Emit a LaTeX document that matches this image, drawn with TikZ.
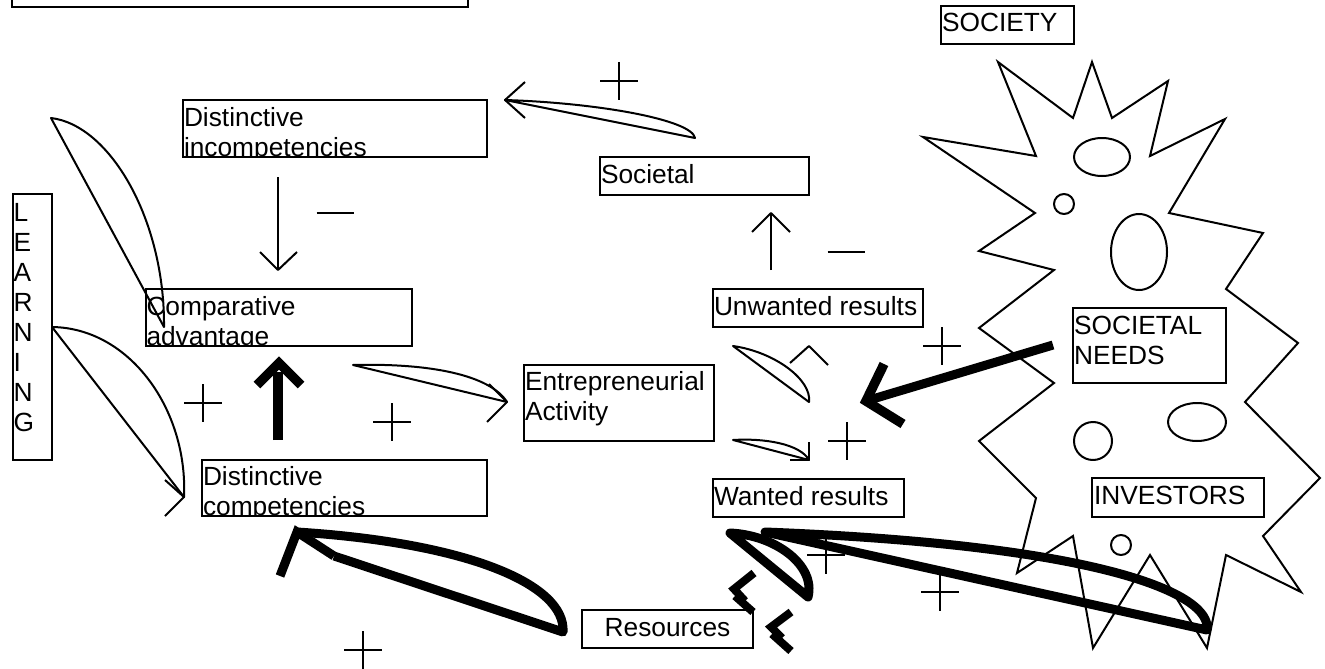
\documentclass[tikz,border=0pt]{standalone}
\usepackage{fontspec}
\setmainfont{Liberation Sans}
\begin{document}
\begin{tikzpicture}[x=1pt,y=-1pt,
  box/.style={draw,line width=2pt,inner sep=0pt,outer sep=0pt,anchor=north west},
  lbl/.style={inner sep=0pt,outer sep=0pt,anchor=base west,align=left,font=\fontsize{26.3}{30}\selectfont},
  thinline/.style={line width=2pt,line join=round},
  thickline/.style={line width=9pt,line join=round},
  headline/.style={line width=9.5pt,line join=miter},
  plussign/.pic={\draw[line width=2pt] (-19,0) -- (19,0) (0,-19) -- (0,19);},
  minussign/.pic={\draw[line width=2pt] (-18.5,0) -- (18.5,0);}]
\useasboundingbox (0,0) rectangle (1325,669);

% ---------- society star ----------
\draw[line width=2pt,line join=miter] (998,62) -- (1073,118) -- (1092,62) -- (1112,118) -- (1168,81) -- (1150,156)
  -- (1225,119) -- (1169,213) -- (1263,233) -- (1226,289) -- (1298,343) -- (1245,402) -- (1320,478)
  -- (1263,536) -- (1301,592) -- (1226,555) -- (1207,648) -- (1150,555) -- (1093,648) -- (1073,536)
  -- (1017,573) -- (1036,498) -- (979,441) -- (1054,383) -- (979,328) -- (1054,270) -- (979,251)
  -- (1035,213) -- (923,137) -- (1036,156) -- cycle;
\draw[thinline] (1102,157) ellipse [x radius=28pt, y radius=19pt];
\draw[thinline] (1064,204) circle [radius=10pt];
\draw[thinline] (1139,252) ellipse [x radius=28pt, y radius=38pt];
\draw[thinline] (1093,441) circle [radius=19pt];
\draw[thinline] (1197,422) ellipse [x radius=29pt, y radius=19pt];
\draw[thinline] (1121,545) circle [radius=10pt];

% ---------- boxes ----------
\node[box,minimum width=456pt,minimum height=27pt] (topbox) at (12,-20) {};
\node[box,minimum width=39pt,minimum height=266pt] (learn) at (13,194) {};
\node[lbl] (learnt) at (13.5,431) {L\\E\\A\\R\\N\\I\\N\\G};
\node[box,minimum width=304pt,minimum height=57pt] (dinc) at (183,100) {};
\begin{scope}
\clip (dinc.south west) rectangle (dinc.north east);
\node[lbl] (dinct) at (184,156) {Distinctive\\incompetencies};
\end{scope}
\node[box,minimum width=209pt,minimum height=38pt] (soc) at (600,157) {};
\node[lbl] (soct) at (601,183) {Societal};
\node[box,minimum width=266pt,minimum height=57pt] (comp) at (146,289) {};
\begin{scope}
\clip (comp.south west) rectangle (comp.north east);
\node[lbl] (compt) at (146.5,345) {Comparative\\advantage};
\end{scope}
\node[box,minimum width=210pt,minimum height=38pt] (unw) at (713,289) {};
\node[lbl] (unwt) at (714,315) {Unwanted results};
\node[box,minimum width=190pt,minimum height=76pt] (ent) at (524,365) {};
\node[lbl] (entt) at (525,420) {Entrepreneurial\\Activity};
\node[box,minimum width=285pt,minimum height=56pt] (dcomp) at (202,460) {};
\begin{scope}
\clip (dcomp.south west) rectangle (dcomp.north east);
\node[lbl] (dcompt) at (203,515) {Distinctive\\competencies};
\end{scope}
\node[box,minimum width=191pt,minimum height=38pt] (want) at (713,479) {};
\node[lbl] (wantt) at (714,505) {Wanted results};
\node[box,minimum width=171pt,minimum height=38pt] (res) at (582,610) {};
\node[lbl,anchor=base] (rest) at (667.5,636) {Resources};
\node[box,minimum width=133pt,minimum height=38pt] (society) at (941,6) {};
\node[lbl] (societyt) at (942,32) {SOCIETY};
\node[box,minimum width=153pt,minimum height=75pt] (sneeds) at (1073,308) {};
\node[lbl] (sneedst) at (1074,364) {SOCIETAL\\NEEDS};
\node[box,minimum width=172pt,minimum height=39pt] (inv) at (1092,478) {};
\node[lbl] (invt) at (1094,504) {INVESTORS};

% ---------- signs ----------
\pic at (619,81) {plussign};
\pic at (203,403) {plussign};
\pic at (392,422) {plussign};
\pic at (942,346) {plussign};
\pic at (847,441) {plussign};
\pic at (826,555) {plussign};
\pic at (940,592) {plussign};
\pic at (363,650) {plussign};
\pic at (335,213) {minussign};
\pic at (846,252) {minussign};

% ---------- thin connectors ----------
% Distinctive incompetencies -> Comparative advantage
\coordinate (a1s) at (278,177); \coordinate (a1t) at (278,270);
\draw[thinline] (a1s) -- (a1t);
\draw[thinline] (260,252) -- (a1t) -- (297,252);
% Unwanted results -> Societal
\coordinate (a2s) at (771,270); \coordinate (a2t) at (771,213);
\draw[thinline] (a2s) -- (a2t);
\draw[thinline] (752,232) -- (a2t) -- (790,232);
% Societal -> Distinctive incompetencies
\coordinate (a3s) at (695,138); \coordinate (a3t) at (505,100);
\draw[thinline] (a3s) .. controls (692,120) and (600,103) .. (a3t) -- cycle;
\draw[thinline] (525,82) -- (a3t) -- (525,118);
% Comparative advantage -> Entrepreneurial activity
\coordinate (a4s) at (353,365); \coordinate (a4t) at (507,402);
\draw[thinline] (a4s) .. controls (430,363) and (490,375) .. (a4t) -- cycle;
\draw[thinline] (489,384) -- (a4t) -- (487,422);
% Entrepreneurial -> Unwanted results
\coordinate (a5s) at (733,346); \coordinate (a5t) at (809,402);
\draw[thinline] (a5s) .. controls (775,352) and (812,380) .. (a5t) -- cycle;
\draw[thinline] (790,363) -- (809,346) -- (828,365);
% Entrepreneurial -> Wanted results
\coordinate (a6s) at (733,440); \coordinate (a6t) at (809,460);
\draw[thinline] (a6s) .. controls (765,438) and (800,444) .. (a6t) -- cycle;
\draw[thinline] (809,442) -- (a6t) -- (790,460);
% Learning -> Comparative advantage
\coordinate (a7s) at (51,118); \coordinate (a7t) at (164,327);
\draw[thinline] (a7s) .. controls (110,125) and (165,220) .. (a7t) -- cycle;
% Learning -> Distinctive competencies
\coordinate (a8s) at (52,327); \coordinate (a8t) at (184,497);
\draw[thinline] (a8s) .. controls (130,328) and (188,410) .. (a8t) -- cycle;
\draw[thinline] (165,480) -- (a8t) -- (165,516);

% ---------- thick connectors ----------
% Distinctive competencies -> Comparative advantage
\coordinate (b1s) at (278,440); \coordinate (b1t) at (279,363);
\draw[line width=10pt] (b1s) -- (278,372);
\draw[headline] (257,385) -- (b1t) -- (301,385);
% Societal needs -> between results
\coordinate (b2s) at (1053,345); \coordinate (b2t) at (866,401);
\draw[thickline,line cap=butt] (b2s) -- (b2t);
\draw[headline] (884,364) -- (b2t) -- (903,424);
% Resources -> Distinctive competencies
\coordinate (b3s) at (563,632); \coordinate (b3t) at (297,532);
\coordinate (b3a) at (280,576); \coordinate (b3b) at (334,556);
\draw[thickline] (b3b) -- (b3s) .. controls (566,585) and (470,543) .. (b3t);
\draw[thickline,line join=miter] (b3a) -- (b3t) -- (b3b);
% Resources -> Wanted results
\coordinate (b4s) at (808,597); \coordinate (b4t) at (730,533);
\draw[thickline] (b4s) .. controls (816,565) and (775,535) .. (b4t) -- cycle;
% Investors -> Wanted results
\coordinate (b5s) at (1207,630); \coordinate (b5t) at (765,532);
\draw[thickline] (b5s) .. controls (1212,593) and (1100,545) .. (b5t) -- cycle;
% chevrons beside Resources
\draw[line width=8pt,line join=miter] (754,573) -- (734,589) -- (745,601);
\draw[line width=8pt] (735,596) -- (753,612);
\draw[line width=8pt,line join=miter] (791,612) -- (771,627) -- (782,638);
\draw[line width=8pt] (772,634) -- (791,651);
\end{tikzpicture}
\end{document}
